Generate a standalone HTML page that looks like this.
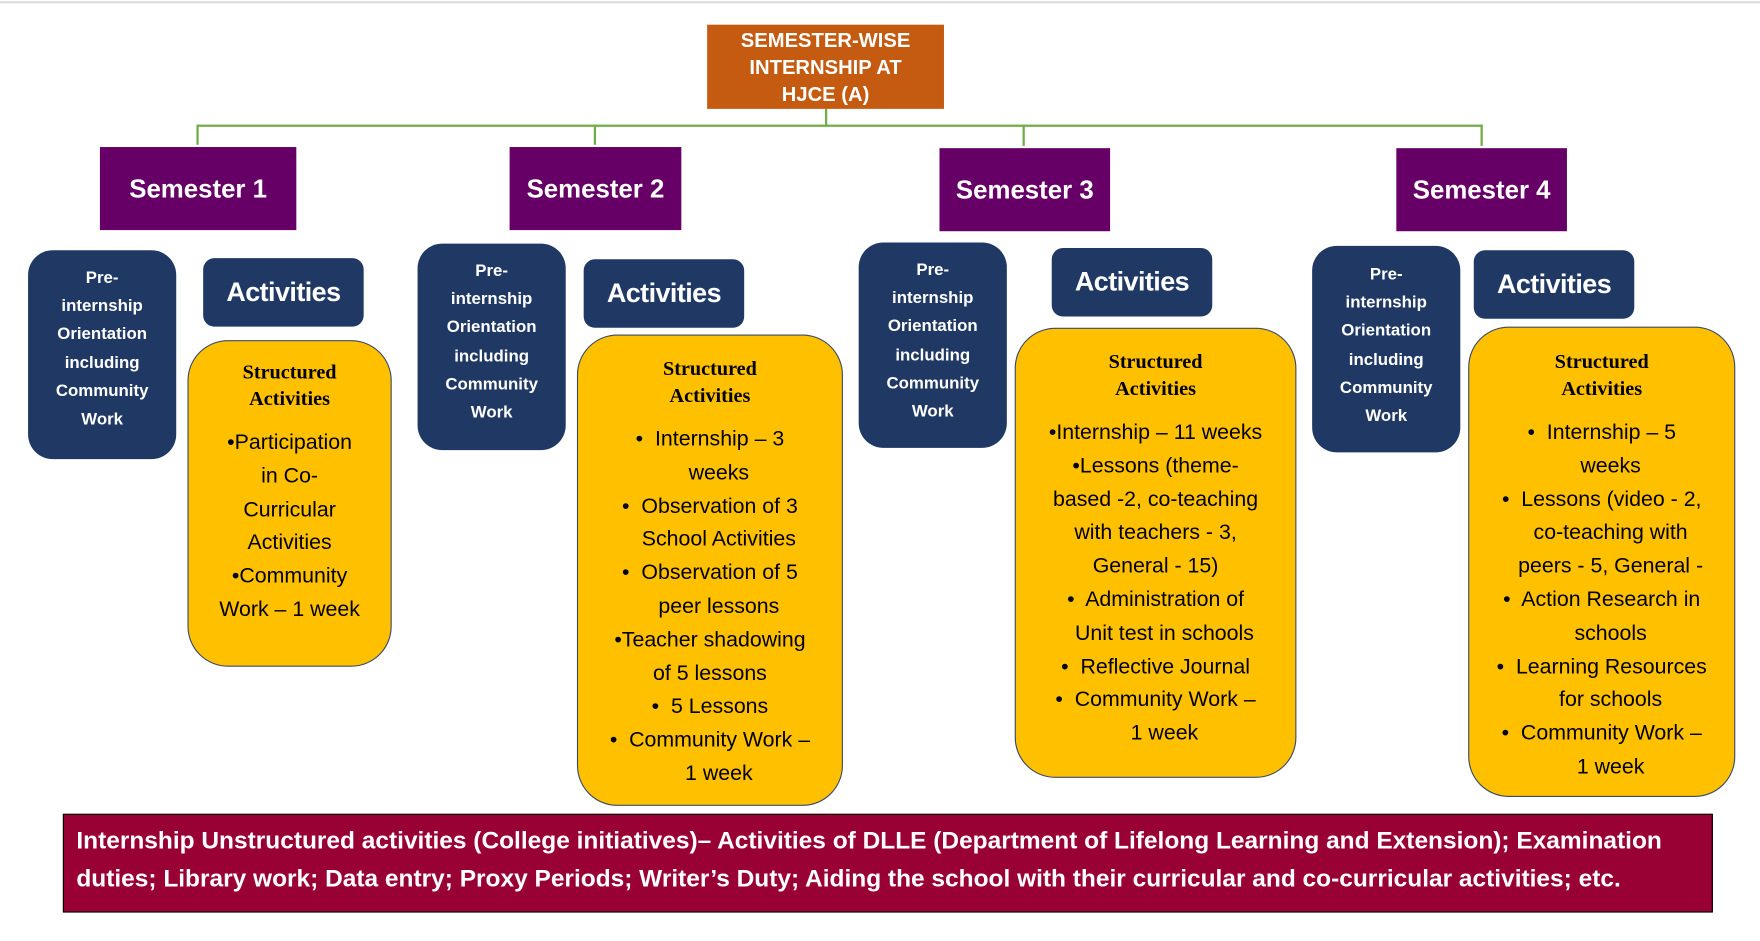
<!DOCTYPE html>
<html><head><meta charset="utf-8"><style>
html,body{margin:0;padding:0;background:#fff;width:1760px;height:940px;overflow:hidden;}
#w{position:absolute;left:0;top:0;width:1568px;height:838px;transform:scale(1.12245);transform-origin:0 0;font-family:"Liberation Sans",sans-serif;}
.a{position:absolute;box-sizing:border-box;}
.t{position:absolute;left:0;right:0;text-align:center;white-space:nowrap;}
.sem{background:#660066;color:#fff;font-weight:bold;font-size:23px;display:flex;align-items:center;justify-content:center;}
.pre{background:#203864;border-radius:22px;color:#fff;font-weight:bold;font-size:15px;line-height:25.2px;text-align:center;}
.act{background:#203864;border-radius:10px;color:#fff;font-size:24px;font-weight:bold;display:flex;align-items:center;justify-content:center;letter-spacing:-0.5px;}
.y{background:#FFC000;border:1.5px solid #3a4a66;border-radius:36px;}
.h{font-family:"Liberation Serif",serif;font-weight:bold;font-size:18px;line-height:24px;}
.b{font-size:19px;line-height:29.8px;color:#000;}
.g{position:absolute;background:#70AD47;}
</style></head><body><div id="w">
<div class="a" style="left:0;top:1px;width:1568px;height:2px;background:#ddd"></div>
<div class="a" style="left:630px;top:22px;width:211px;height:75px;background:#C55A11;color:#fff;font-weight:bold;font-size:18px;line-height:24px;text-align:center;padding-top:2px">SEMESTER-WISE<br>INTERNSHIP AT<br>HJCE (A)</div>
<div class="g" style="left:735px;top:97px;width:2px;height:16px"></div>
<div class="g" style="left:176px;top:111px;width:1145px;height:2px"></div>
<div class="g" style="left:175px;top:111px;width:2px;height:18px"></div>
<div class="g" style="left:529px;top:111px;width:2px;height:18px"></div>
<div class="g" style="left:911px;top:111px;width:2px;height:19px"></div>
<div class="g" style="left:1319px;top:111px;width:2px;height:19px"></div>

<div class="a sem" style="left:89px;top:131px;width:175px;height:74px">Semester 1</div>
<div class="a sem" style="left:454px;top:131px;width:153px;height:74px">Semester 2</div>
<div class="a sem" style="left:837px;top:132px;width:152px;height:74px">Semester 3</div>
<div class="a sem" style="left:1244px;top:132px;width:152px;height:74px">Semester 4</div>

<div class="a pre" style="left:25px;top:223px;width:132px;height:186px;padding-top:12px">Pre-<br>internship<br>Orientation<br>including<br>Community<br>Work</div>
<div class="a pre" style="left:372px;top:217px;width:132px;height:184px;padding-top:12px">Pre-<br>internship<br>Orientation<br>including<br>Community<br>Work</div>
<div class="a pre" style="left:765px;top:216px;width:132px;height:183px;padding-top:12px">Pre-<br>internship<br>Orientation<br>including<br>Community<br>Work</div>
<div class="a pre" style="left:1169px;top:219px;width:132px;height:184px;padding-top:13px">Pre-<br>internship<br>Orientation<br>including<br>Community<br>Work</div>

<div class="a act" style="left:181px;top:230px;width:143px;height:61px">Activities</div>
<div class="a act" style="left:520px;top:231px;width:143px;height:61px">Activities</div>
<div class="a act" style="left:937px;top:221px;width:143px;height:61px">Activities</div>
<div class="a act" style="left:1313px;top:223px;width:143px;height:61px">Activities</div>

<div class="a y" style="left:167px;top:303px;width:182px;height:291px">
<div class="t h" style="top:15px">Structured<br>Activities</div>
<div class="t b" style="top:76px">•Participation<br>in Co-<br>Curricular<br>Activities<br>•Community<br>Work – 1 week</div></div>

<div class="a y" style="left:514px;top:298px;width:237px;height:420px">
<div class="t h" style="top:17px">Structured<br>Activities</div>
<div class="t b" style="top:78px">•&nbsp; Internship – 3<br>&nbsp;&nbsp;&nbsp;weeks<br>•&nbsp; Observation of 3<br>&nbsp;&nbsp;&nbsp;School Activities<br>•&nbsp; Observation of 5<br>&nbsp;&nbsp;&nbsp;peer lessons<br>•Teacher shadowing<br>of 5 lessons<br>•&nbsp; 5 Lessons<br>•&nbsp; Community Work –<br>&nbsp;&nbsp;&nbsp;1 week</div></div>

<div class="a y" style="left:904px;top:292px;width:251px;height:401px">
<div class="t h" style="top:17px">Structured<br>Activities</div>
<div class="t b" style="top:78px">•Internship – 11 weeks<br>•Lessons (theme-<br>based -2, co-teaching<br>with teachers - 3,<br>General - 15)<br>•&nbsp; Administration of<br>&nbsp;&nbsp;&nbsp;Unit test in schools<br>•&nbsp; Reflective Journal<br>•&nbsp; Community Work –<br>&nbsp;&nbsp;&nbsp;1 week</div></div>

<div class="a y" style="left:1308px;top:291px;width:238px;height:419px">
<div class="t h" style="top:18px">Structured<br>Activities</div>
<div class="t b" style="top:79px">•&nbsp; Internship – 5<br>&nbsp;&nbsp;&nbsp;weeks<br>•&nbsp; Lessons (video - 2,<br>&nbsp;&nbsp;&nbsp;co-teaching with<br>&nbsp;&nbsp;&nbsp;peers - 5, General -<br>•&nbsp; Action Research in<br>&nbsp;&nbsp;&nbsp;schools<br>•&nbsp; Learning Resources<br>&nbsp;&nbsp;&nbsp;for schools<br>•&nbsp; Community Work –<br>&nbsp;&nbsp;&nbsp;1 week</div></div>

<div class="a" style="left:56px;top:725px;width:1470px;height:88px;background:#990033;border:1px solid #000;color:#fff;font-weight:bold;font-size:21.8px;line-height:33.5px;padding:6px 0 0 11px;white-space:nowrap;overflow:hidden">Internship Unstructured activities (College initiatives)– Activities of DLLE (Department of Lifelong Learning and Extension); Examination<br>duties; Library work; Data entry; Proxy Periods; Writer’s Duty; Aiding the school with their curricular and co-curricular activities; etc.</div>
</div></body></html>
